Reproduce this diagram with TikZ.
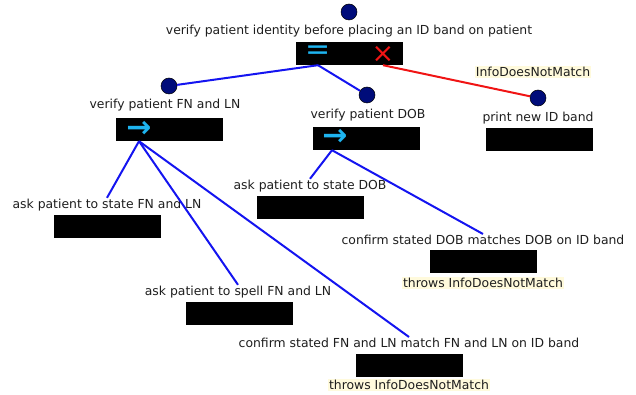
\documentclass[tikz,border=0pt]{standalone}
\usepackage{fontspec}
\setmainfont{DejaVu Sans}
\usetikzlibrary{calc}
\definecolor{trnavy}{HTML}{000C7A}
\definecolor{trblue}{HTML}{1414F0}
\definecolor{trred}{HTML}{F01414}
\definecolor{trcyan}{HTML}{1EB4F0}
\definecolor{trnote}{HTML}{FFFADC}
\definecolor{trink}{HTML}{1E1E1E}
\tikzset{
  every picture/.style={font=\fontsize{12.4}{14}\selectfont,text=trink},
  task/.style={circle,draw=black,fill=trnavy,line width=0.5pt,
    minimum size=16pt,inner sep=0pt},
  tasklabel/.style={inner sep=1pt},
  slot/.style={fill=black,minimum width=107pt,minimum height=23pt,inner sep=0pt},
  branch/.style={draw=trblue,line width=2pt},
  fails/.style={draw=trred,line width=2pt},
  throws/.style={fill=trnote,inner sep=1pt},
  glyph/.style={inner sep=0pt,font=\fontsize{30}{30}\selectfont},
}
\begin{document}
\begin{tikzpicture}[x=1pt,y=-1pt]
  \path[use as bounding box] (0,0) rectangle (636,395);
  % root task and its three children
  \node[task] (root) at (349,12) {};
  \node[tasklabel] (rootlbl) at (349,31) {verify patient identity before placing an ID band on patient};
  \node[slot] (rootbox) at (349.5,53.5) {};
  \node[glyph,text=trcyan] (eq) at (318,53) {=};
  \node[glyph,text=trred,font=\fontsize{27}{27}\selectfont] (cross) at (383,54) {×};
  \node[task] (fn) at (169,86) {};
  \node[tasklabel] (fnlbl) at (165,105) {verify patient FN and LN};
  \node[slot] (fnbox) at (169.5,129.5) {};
  \node[glyph,text=trcyan,font=\fontsize{30}{30}\bfseries] (fnarr) at (139,129) {→};
  \node[task] (dob) at (367,95) {};
  \node[tasklabel] (doblbl) at (368,115) {verify patient DOB};
  \node[slot] (dobbox) at (366.5,138.5) {};
  \node[glyph,text=trcyan,font=\fontsize{30}{30}\bfseries] (dobarr) at (335,137) {→};
  \node[task] (print) at (538,98) {};
  \node[tasklabel] (printlbl) at (538,118) {print new ID band};
  \node[slot] (printbox) at (539,140) {};
  \node[throws] (rootnote) at (533,72) {InfoDoesNotMatch};
  % leaves under FN and LN
  \node[tasklabel] (askfn) at (107,205) {ask patient to state FN and LN};
  \node[slot] (askfnbox) at (107,226.5) {};
  \node[tasklabel] (spell) at (238,292) {ask patient to spell FN and LN};
  \node[slot] (spellbox) at (239,313.5) {};
  \node[tasklabel] (cfn) at (409,343) {confirm stated FN and LN match FN and LN on ID band};
  \node[slot] (cfnbox) at (409,365.5) {};
  \node[throws] (cfnnote) at (409,385) {throws InfoDoesNotMatch};
  % leaves under DOB
  \node[tasklabel] (askdob) at (310,186) {ask patient to state DOB};
  \node[slot] (askdobbox) at (310,207.5) {};
  \node[tasklabel] (cdob) at (483,240) {confirm stated DOB matches DOB on ID band};
  \node[slot] (cdobbox) at (483.5,261.5) {};
  \node[throws] (cdobnote) at (483,283) {throws InfoDoesNotMatch};
  % connectors
  \coordinate (rootok) at (eq |- rootbox.south);
  \coordinate (rootbad) at (cross |- rootbox.south);
  \coordinate (fnport) at (fnarr |- fnbox.south);
  \coordinate (dobport) at ($(dobarr |- dobbox.south)+(-3,0)$);
  \draw[branch] (rootok) -- (fn);
  \draw[branch] (rootok) -- (dob);
  \draw[fails] (rootbad) -- (print);
  \foreach \leaf in {askfn,spell,cfn} {\draw[branch] (fnport) -- (\leaf.north);}
  \foreach \leaf in {askdob,cdob} {\draw[branch] (dobport) -- (\leaf.north);}
\end{tikzpicture}
\end{document}
